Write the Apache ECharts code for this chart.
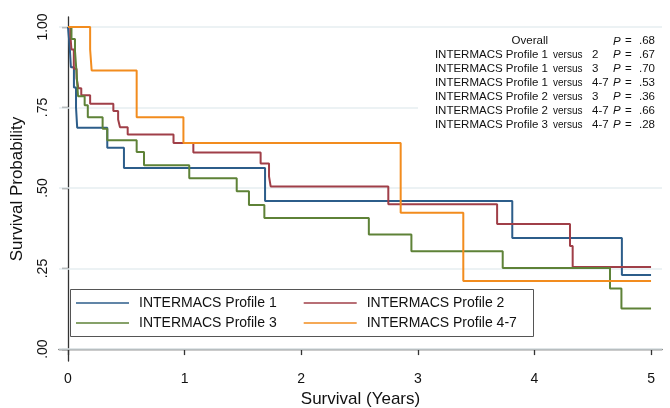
<!DOCTYPE html>
<html>
<head>
<meta charset="utf-8">
<script src="https://cdn.jsdelivr.net/npm/echarts@6/dist/echarts.min.js"></script>
<style>html,body{margin:0;padding:0;background:#fff;}#c{width:670px;height:408px;}</style>
</head>
<body>
<div id="c"></div>
<script>
// ---- data ----
var seriesNames = ['INTERMACS Profile 1', 'INTERMACS Profile 2', 'INTERMACS Profile 3', 'INTERMACS Profile 4-7'];
var p1T = [0, 0.015, 0.025, 0.051, 0.069, 0.079, 0.337, 0.48, 1.69, 3.81, 4.75, 5];
var p1S = [1, 0.9375, 0.875, 0.8125, 0.75, 0.6875, 0.625, 0.5625, 0.46, 0.345, 0.23, 0.23];
var p2T = [0, 0.02, 0.03, 0.05, 0.074, 0.089, 0.114, 0.19, 0.389, 0.43, 0.446, 0.512, 0.905, 1.075, 1.652, 1.724, 1.738, 2.747, 3.68, 4.305, 4.328, 5];
var p2S = [1, 0.976, 0.93, 0.87, 0.84, 0.81, 0.788, 0.762, 0.739, 0.713, 0.689, 0.666, 0.64, 0.61, 0.576, 0.536, 0.505, 0.45, 0.388, 0.32, 0.255, 0.255];
var p3T = [0, 0.03, 0.06, 0.075, 0.086, 0.143, 0.17, 0.297, 0.337, 0.589, 0.652, 1.04, 1.447, 1.552, 1.684, 2.58, 2.945, 3.728, 4.648, 4.746, 5];
var p3S = [1, 0.963, 0.926, 0.85, 0.785, 0.757, 0.72, 0.684, 0.648, 0.612, 0.571, 0.53, 0.49, 0.447, 0.407, 0.356, 0.304, 0.252, 0.188, 0.126, 0.126];
var p4T = [0, 0.19, 0.203, 0.589, 0.99, 2.853, 3.39, 5];
var p4S = [1, 0.93, 0.865, 0.72, 0.64, 0.423, 0.211, 0.211];
var xTicks = [0, 1, 2, 3, 4, 5];
var yTicks = [0, 0.25, 0.5, 0.75, 1];
var yTickLabels = ['.00', '.25', '.50', '.75', '1.00'];
var annoLeft = ['Overall', 'INTERMACS Profile 1', 'INTERMACS Profile 1', 'INTERMACS Profile 1', 'INTERMACS Profile 2', 'INTERMACS Profile 2', 'INTERMACS Profile 3'];
var annoVersus = ['', 'versus', 'versus', 'versus', 'versus', 'versus', 'versus'];
var annoGroup = ['', '2', '3', '4-7', '3', '4-7', '4-7'];
var annoP = ['.68', '.67', '.70', '.53', '.36', '.66', '.28'];

var colors = ['#2c5d8a', '#a03f48', '#5e8237', '#f28c1e'];
var FONT = '"Liberation Sans", Arial, Helvetica, sans-serif';

function pairs(T, S) { return T.map(function (t, i) { return [t, S[i]]; }); }
var allT = [p1T, p2T, p3T, p4T], allS = [p1S, p2S, p3S, p4S];

var series = [{
  type: 'line', data: [], z: 1, silent: true,
  markLine: {
    z: 1, silent: true, symbol: 'none', label: { show: false },
    lineStyle: { color: '#e6eef1', width: 1.5, type: 'solid' },
    data: yTicks.map(function (v) { return { yAxis: v }; })
  }
}];
seriesNames.forEach(function (n, i) {
  series.push({
    name: n, type: 'line', step: 'end', symbol: 'none', z: 3,
    data: pairs(allT[i], allS[i]),
    lineStyle: { color: colors[i], width: 2 },
    itemStyle: { color: colors[i] }
  });
});

var graphics = [];
graphics.push({
  type: 'rect', left: 70, top: 289, z: 0,
  shape: { width: 463, height: 47 },
  style: { fill: '#fff', stroke: '#555', lineWidth: 1 }
});
graphics.push({
  type: 'rect', left: 418, top: 32, z: 10,
  shape: { width: 244, height: 100 },
  style: { fill: '#fff', stroke: null }
});
annoLeft.forEach(function (s, i) {
  var y = 41.3 + 13.9 * i;
  var f = '11.5px ' + FONT;
  graphics.push({ type: 'text', z: 11, x: 548, y: y, style: { text: s, font: f, fill: '#111', align: 'right', verticalAlign: 'middle' } });
  if (annoVersus[i]) graphics.push({ type: 'text', z: 11, x: 553, y: y + 0.5, style: { text: annoVersus[i], font: '10px ' + FONT, fill: '#111', align: 'left', verticalAlign: 'middle' } });
  if (annoGroup[i]) graphics.push({ type: 'text', z: 11, x: 592, y: y, style: { text: annoGroup[i], font: f, fill: '#111', align: 'left', verticalAlign: 'middle' } });
  graphics.push({ type: 'text', z: 11, x: 613, y: y, style: { text: 'P', font: 'italic 11.5px ' + FONT, fill: '#111', align: 'left', verticalAlign: 'middle' } });
  graphics.push({ type: 'text', z: 11, x: 625, y: y, style: { text: '=', font: f, fill: '#111', align: 'left', verticalAlign: 'middle' } });
  graphics.push({ type: 'text', z: 11, x: 655, y: y, style: { text: annoP[i], font: f, fill: '#111', align: 'right', verticalAlign: 'middle' } });
});

var legendCommon = {
  orient: 'horizontal', icon: 'rect', itemWidth: 53, itemHeight: 1.6, itemGap: 27, padding: 0,
  textStyle: { fontFamily: FONT, fontSize: 14, color: '#111', padding: [0, 0, 0, 5] },
  selectedMode: false
};

var option = {
  backgroundColor: '#fff',
  animation: false,
  color: colors,
  grid: { left: 59, right: 8, top: 17, bottom: 47, containLabel: false, outerBoundsMode: 'none' },
  xAxis: {
    type: 'value', min: -0.077, max: 5.094,
    name: 'Survival (Years)', nameLocation: 'middle', nameGap: 27,
    nameTextStyle: { fontFamily: FONT, fontSize: 17, color: '#111' },
    axisLine: { show: true, lineStyle: { color: '#333', width: 1.3 } },
    axisTick: { show: true, length: 6, customValues: xTicks, lineStyle: { color: '#333', width: 1.3 } },
    axisLabel: { customValues: xTicks, fontFamily: FONT, fontSize: 14, color: '#111', margin: 11, formatter: function (v) { return String(v); } },
    splitLine: { show: false }
  },
  yAxis: {
    type: 'value', min: -0.037, max: 1.031,
    name: 'Survival Probability', nameLocation: 'middle', nameGap: 33, nameRotate: 90,
    nameTextStyle: { fontFamily: FONT, fontSize: 17, color: '#111' },
    axisLine: { show: true, lineStyle: { color: '#333', width: 1.3 } },
    axisTick: { show: true, length: 6, customValues: yTicks, lineStyle: { color: '#333', width: 1.3 } },
    axisLabel: { customValues: yTicks, rotate: 90, fontFamily: FONT, fontSize: 14, color: '#111', margin: 9,
      formatter: function (v) { var k = yTicks.indexOf(Math.round(v * 100) / 100); return k >= 0 ? yTickLabels[k] : ''; } },
    splitLine: { show: false }
  },
  legend: [
    Object.assign({}, legendCommon, { left: 76, top: 296, data: [seriesNames[0], seriesNames[1]] }),
    Object.assign({}, legendCommon, { left: 76, top: 316, data: [seriesNames[2], seriesNames[3]] })
  ],
  graphic: graphics,
  series: series
};
var chart = echarts.init(document.getElementById('c'), null, { renderer: 'canvas' });
chart.setOption(option);
</script>
</body>
</html>
